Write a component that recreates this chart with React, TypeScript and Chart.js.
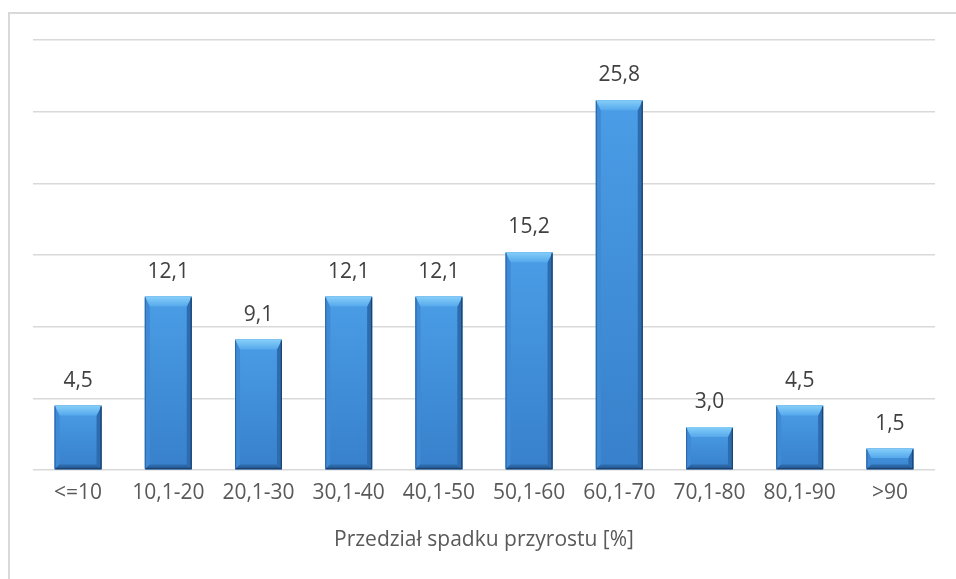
import { useEffect, useRef } from "react";
import { Chart, registerables } from "chart.js";

Chart.register(...registerables);

const categories = ["<=10", "10,1-20", "20,1-30", "30,1-40", "40,1-50", "50,1-60", "60,1-70", "70,1-80", "80,1-90", ">90"];
const values = [4.5, 12.1, 9.1, 12.1, 12.1, 15.2, 25.8, 3.0, 4.5, 1.5];
const axisTitle = "Przedział spadku przyrostu [%]";
const yMin = 0;
const yMax = 30;
const yStep = 5;

const FONT = "'Open Sans', sans-serif";
const FONT_SIZE = 21;

const formatValue = (v: number) => v.toFixed(1).replace(".", ",");

const bevelPlugin = {
  id: "bevelBars",
  afterDatasetsDraw(chart: any) {
    const ctx = chart.ctx as CanvasRenderingContext2D;
    const meta = chart.getDatasetMeta(0);
    meta.data.forEach((bar: any, i: number) => {
      const { x, y, base, width } = bar.getProps(["x", "y", "base", "width"], true);
      const l = x - width / 2;
      const r = x + width / 2;
      const t = Math.min(y, base);
      const b = Math.max(y, base);
      const h = b - t;
      const bev = Math.min(10, h / 2.2);
      const side = 5;
      const bot = Math.min(5, h / 4);
      ctx.save();
      // face gradient
      const face = ctx.createLinearGradient(0, t, 0, b);
      face.addColorStop(0, "#4a9de6");
      face.addColorStop(1, "#3880cb");
      ctx.fillStyle = face;
      ctx.fillRect(l, t, width, h);
      // left side strip
      ctx.beginPath();
      ctx.moveTo(l, t);
      ctx.lineTo(l + side, t + bev);
      ctx.lineTo(l + side, b - bot);
      ctx.lineTo(l, b);
      ctx.closePath();
      ctx.fillStyle = "#3f8ad5";
      ctx.fill();
      // right side strip
      ctx.beginPath();
      ctx.moveTo(r, t);
      ctx.lineTo(r - side, t + bev);
      ctx.lineTo(r - side, b - bot);
      ctx.lineTo(r, b);
      ctx.closePath();
      ctx.fillStyle = "#2e6cb0";
      ctx.fill();
      // bottom strip
      ctx.beginPath();
      ctx.moveTo(l, b);
      ctx.lineTo(l + side, b - bot);
      ctx.lineTo(r - side, b - bot);
      ctx.lineTo(r, b);
      ctx.closePath();
      const bg = ctx.createLinearGradient(0, b - bot, 0, b);
      bg.addColorStop(0, "#3274b9");
      bg.addColorStop(1, "#1f4f86");
      ctx.fillStyle = bg;
      ctx.fill();
      // top bevel
      ctx.beginPath();
      ctx.moveTo(l, t);
      ctx.lineTo(r, t);
      ctx.lineTo(r - side, t + bev);
      ctx.lineTo(l + side, t + bev);
      ctx.closePath();
      const tg = ctx.createLinearGradient(0, t, 0, t + bev);
      tg.addColorStop(0, "#86cff9");
      tg.addColorStop(1, "#55a8ec");
      ctx.fillStyle = tg;
      ctx.fill();
      // outline edges
      ctx.strokeStyle = "#1d426d";
      ctx.lineWidth = 1.2;
      ctx.beginPath();
      ctx.moveTo(r - 0.6, t + 1);
      ctx.lineTo(r - 0.6, b - 0.6);
      ctx.lineTo(l + 0.6, b - 0.6);
      ctx.stroke();
      ctx.strokeStyle = "rgba(40,90,150,0.8)";
      ctx.lineWidth = 1;
      ctx.beginPath();
      ctx.moveTo(l + 0.5, b - 1);
      ctx.lineTo(l + 0.5, t + 1);
      ctx.stroke();
      // value label
      ctx.fillStyle = "#404040";
      ctx.font = `${FONT_SIZE}px ${FONT}`;
      ctx.textAlign = "center";
      ctx.textBaseline = "alphabetic";
      ctx.fillText(formatValue(values[i]), x, t - 19);
      ctx.restore();
    });
  },
};

export default function App() {
  const canvasRef = useRef<HTMLCanvasElement | null>(null);

  useEffect(() => {
    if (!canvasRef.current) return;
    const chart = new Chart(canvasRef.current, {
      type: "bar",
      data: {
        labels: categories,
        datasets: [
          {
            data: values,
            backgroundColor: "#4090dc",
            borderWidth: 0,
            barPercentage: 0.52,
            categoryPercentage: 1,
          },
        ],
      },
      options: {
        animation: false,
        responsive: false,
        maintainAspectRatio: false,
        layout: { padding: { left: 33, right: 21, top: 40, bottom: 0 } },
        plugins: {
          legend: { display: false },
          tooltip: { enabled: false },
          title: { display: false },
        },
        scales: {
          x: {
            grid: { display: false, drawTicks: false },
            border: { display: false },
            ticks: {
              color: "#595959",
              font: { family: FONT, size: FONT_SIZE },
              padding: 10,
              maxRotation: 0,
              autoSkip: false,
            },
            title: {
              display: true,
              text: axisTitle,
              color: "#595959",
              font: { family: FONT, size: FONT_SIZE },
              padding: { top: 0, bottom: 26 },
            },
            afterFit: (scale: any) => {
              scale.height = 109;
            },
          },
          y: {
            min: yMin,
            max: yMax,
            ticks: { display: false, stepSize: yStep },
            grid: { color: "#d9d9d9", lineWidth: 1.5, drawTicks: false },
            border: { display: false },
          },
        },
      },
      plugins: [bevelPlugin],
    });
    return () => chart.destroy();
  }, []);

  return (
    <div style={{ position: "absolute", left: 0, top: 0, width: 956, height: 579, background: "#ffffff" }}>
      <canvas ref={canvasRef} width={956} height={579} style={{ position: "absolute", left: 0, top: 0 }} />
      <div
        style={{
          position: "absolute",
          left: 8,
          top: 12,
          right: 0,
          bottom: 0,
          borderTop: "2px solid #d9d9d9",
          borderLeft: "2px solid #d9d9d9",
          pointerEvents: "none",
        }}
      />
    </div>
  );
}
